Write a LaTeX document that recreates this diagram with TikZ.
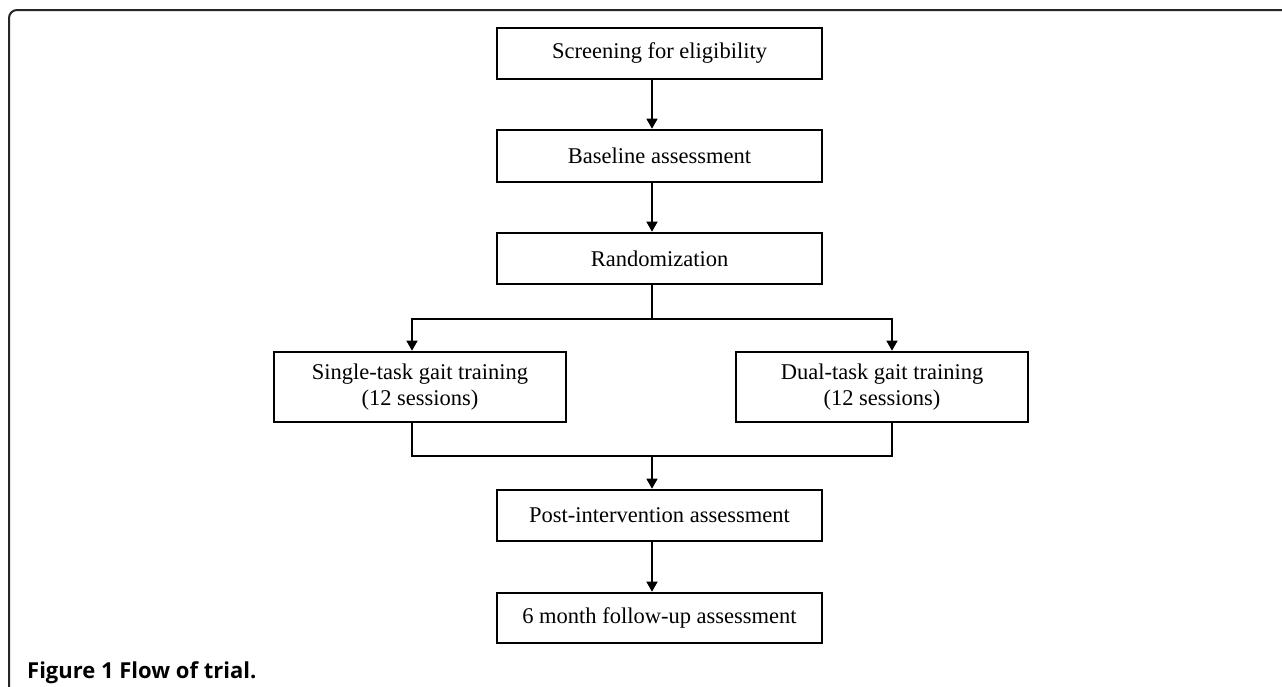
\documentclass[tikz,border=0pt]{standalone}
\usepackage{fontspec}
\setmainfont{Liberation Serif}
\newfontfamily\captionfont{Open Sans}
\usetikzlibrary{arrows.meta}

\begin{document}
\begin{tikzpicture}
  [x=1pt,y=-1pt,line cap=rect,
   % Styles
   flow box/.style={draw,line width=2.6pt,inner sep=0pt,align=center,
     font=\fontsize{22.5}{26}\selectfont},
   flow line/.style={line width=1.4pt},
   flow arrow/.style={flow line,-{Triangle[width=11pt,length=10pt]}},
   caption text/.style={anchor=base west,inner sep=0pt,
     font=\fontsize{22}{26}\selectfont\captionfont\bfseries}]

  % Local definitions
  \colorlet{framecolor}{black!85}

  \useasboundingbox (0,0) rectangle (1282,686);

  % The frame
  \draw[framecolor,line width=2pt,rounded corners=8pt]
    (9,690) -- (9,10) -- (1290,10);

  % The boxes
  \node[flow box,minimum width=325pt,minimum height=51pt] (screen) at (659.5,53.5)
    {Screening for eligibility};
  \node[flow box,minimum width=325pt,minimum height=52pt] (base) at (659.5,156)
    {Baseline assessment};
  \node[flow box,minimum width=325pt,minimum height=51pt] (random) at (659.5,258.5)
    {Randomization};
  \node[flow box,minimum width=292pt,minimum height=70pt] (single) at (420,387)
    {Single-task gait training\\(12 sessions)};
  \node[flow box,minimum width=292pt,minimum height=70pt] (dual) at (882,387)
    {Dual-task gait training\\(12 sessions)};
  \node[flow box,minimum width=325pt,minimum height=51pt] (post) at (659.5,515.5)
    {Post-intervention assessment};
  \node[flow box,minimum width=325pt,minimum height=50pt] (follow) at (659.5,618)
    {6 month follow-up assessment};

  % Connector axes
  \coordinate (mid) at (652,0);
  \coordinate (left) at (412,0);
  \coordinate (right) at (892,0);
  \coordinate (split) at (0,319);
  \coordinate (merge) at (0,456);

  % The connectors
  \draw[flow arrow] (screen.south -| mid) -- (base.north -| mid);
  \draw[flow arrow] (base.south -| mid) -- (random.north -| mid);
  \draw[flow line] (random.south -| mid) -- (split -| mid);
  \draw[flow arrow] (split -| mid) -- (split -| left) -- (single.north -| left);
  \draw[flow arrow] (split -| mid) -- (split -| right) -- (dual.north -| right);
  \draw[flow line] (single.south -| left) -- (merge -| left) -- (merge -| right)
    -- (dual.south -| right);
  \draw[flow arrow] (merge -| mid) -- (post.north -| mid);
  \draw[flow arrow] (post.south -| mid) -- (follow.north -| mid);

  % Caption
  \node[caption text] (caption) at (27,678) {Figure 1 Flow of trial.};
\end{tikzpicture}
\end{document}
